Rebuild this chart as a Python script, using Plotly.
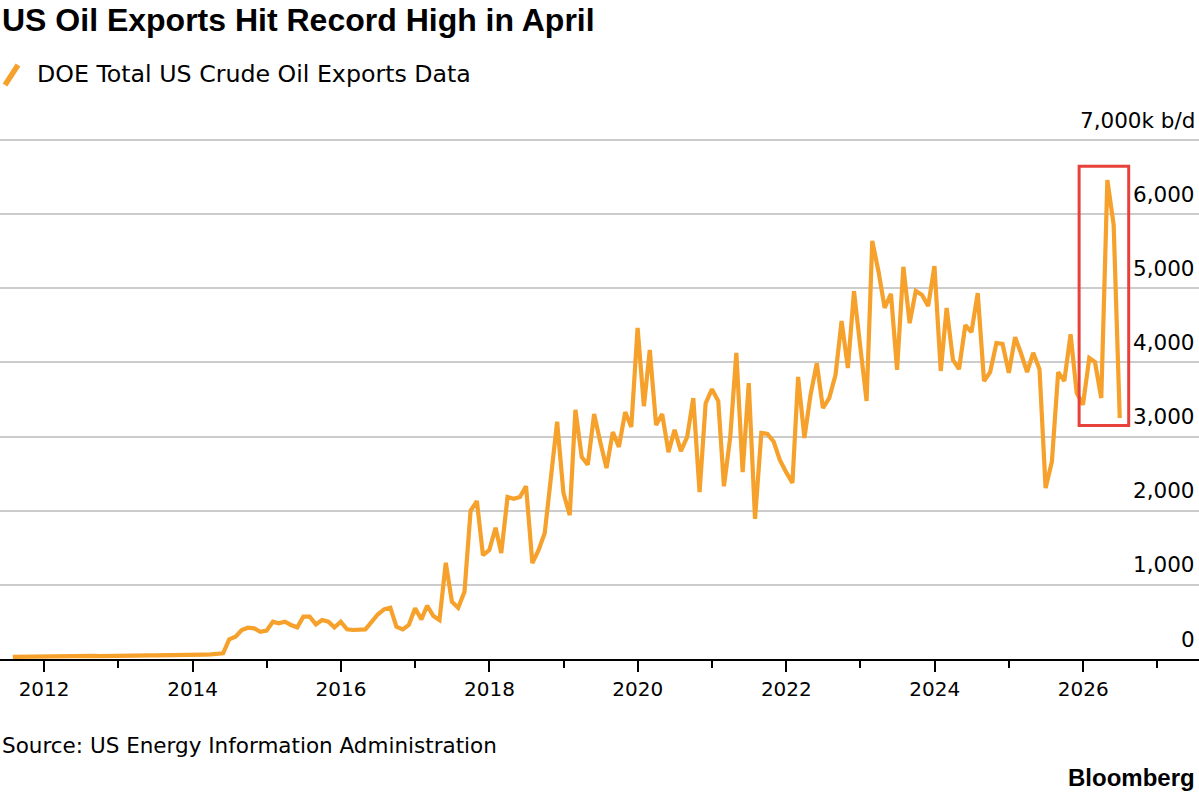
import pandas as pd
import plotly.graph_objects as go

# ---------------- data (monthly, month-end, thousand barrels/day) ----------------
START_MONTH = "2011-07-31"
v2011 = [28, 30, 29, 31, 33, 32]
v2012 = [35, 34, 37, 38, 36, 39, 40, 41, 39, 42, 43, 44]
v2013 = [45, 47, 46, 48, 50, 49, 52, 53, 51, 55, 56, 57]
v2014 = [58, 60, 62, 65, 78, 265, 300, 391, 422, 414, 368, 382]
v2015 = [503, 481, 503, 459, 427, 571, 571, 468, 526, 503, 427, 503]
v2016 = [400, 391, 391, 400, 500, 600, 670, 692, 436, 400, 459, 684]
v2017 = [535, 719, 580, 526, 1299, 773, 692, 908, 2000, 2130, 1400, 1470]
v2018 = [1770, 1430, 2185, 2160, 2185, 2330, 1295, 1470, 1700, 2455, 3200, 2240]
v2019 = [1940, 3360, 2725, 2620, 3305, 2930, 2575, 3060, 2860, 3330, 3130, 4465]
v2020 = [3410, 4170, 3155, 3305, 2790, 3090, 2805, 2995, 3520, 2250, 3450, 3640]
v2021 = [3480, 2330, 2995, 4130, 2520, 3720, 1890, 3050, 3035, 2930, 2685, 2520]
v2022 = [2375, 3805, 2980, 3560, 3990, 3385, 3520, 3830, 4560, 3925, 4960, 4210]
v2023 = [3480, 5640, 5220, 4735, 4925, 3900, 5290, 4530, 4965, 4910, 4760, 5300]
v2024 = [3885, 4735, 4035, 3910, 4505, 4410, 4935, 3750, 3870, 4260, 4250, 3860]
v2025 = [4340, 4130, 3870, 4130, 3910, 2305, 2660, 3870, 3750, 4380, 3590, 3430]
v2026 = [4060, 4005, 3520, 6460, 5855, 3250]

values = (v2011 + v2012 + v2013 + v2014 + v2015 + v2016 + v2017 + v2018
          + v2019 + v2020 + v2021 + v2022 + v2023 + v2024 + v2025 + v2026)

Y_TICKS = [0, 1000, 2000, 3000, 4000, 5000, 6000, 7000]
Y_LABELS = ["0", "1,000", "2,000", "3,000", "4,000", "5,000", "6,000", "7,000k b/d"]

TITLE = "US Oil Exports Hit Record High in April"
SERIES_NAME = "DOE Total US Crude Oil Exports Data"
SOURCE = "Source: US Energy Information Administration"

# highlight box (recent months)
HL_X = ["2025-12-12", "2026-08-13"]
HL_Y = [3150, 6645]

# ---------------- build ----------------
try:
    dates = pd.date_range(START_MONTH, periods=len(values), freq="ME")
except Exception:
    dates = pd.date_range(START_MONTH, periods=len(values), freq="M")

ORANGE = "#f5a12b"
RED = "#e8413c"
FONT = "DejaVu Sans"
BOLD = "Liberation Sans"

W, H = 1199, 795
T, B = 139, 136
PH = H - T - B
Y_MAX = 7014


def px(x):
    return x / W


def py(y):
    return (H - B - y) / PH


fig = go.Figure(
    go.Scatter(x=dates, y=values, mode="lines", name=SERIES_NAME,
               line=dict(color=ORANGE, width=4.2), hoverinfo="skip",
               showlegend=False)
)

fig.update_layout(
    width=W, height=H,
    margin=dict(l=0, r=0, t=T, b=B, pad=0),
    paper_bgcolor="white", plot_bgcolor="white",
    showlegend=False,
    xaxis=dict(
        type="date", range=["2011-05-29", "2027-07-25"],
        showgrid=False, zeroline=False,
        showline=True, linecolor="black", linewidth=1.5,
        ticks="outside", ticklen=11, tickwidth=1.5, tickcolor="black",
        tick0="2012-01-01", dtick="M24", tickformat="%Y",
        tickfont=dict(family=FONT, size=20, color="black"),
        minor=dict(ticks="outside", ticklen=7, tickwidth=1.5, tickcolor="black",
                   tick0="2013-01-01", dtick="M24"),
        fixedrange=True,
    ),
    yaxis=dict(
        range=[0, Y_MAX], tickvals=Y_TICKS, showticklabels=False,
        showgrid=True, gridcolor="#cccccc", gridwidth=1.5,
        zeroline=False, showline=False, ticks="", fixedrange=True,
    ),
)

ann = []
for v, lab in zip(Y_TICKS, Y_LABELS):
    ann.append(dict(x=px(1197), xref="paper", xanchor="right",
                    y=v, yref="y", yanchor="middle", yshift=20,
                    text=lab, showarrow=False,
                    font=dict(family=FONT, size=21.5, color="black")))

ann.append(dict(x=0, xref="paper", xanchor="left", y=py(20), yref="paper",
                yanchor="middle", text="<b>" + TITLE + "</b>", showarrow=False,
                font=dict(family=BOLD, size=32, color="black")))
ann.append(dict(x=px(35), xref="paper", xanchor="left", y=py(74), yref="paper",
                yanchor="middle", text=SERIES_NAME, showarrow=False,
                font=dict(family=FONT, size=23.7, color="black")))
ann.append(dict(x=0, xref="paper", xanchor="left", y=py(745), yref="paper",
                yanchor="middle", text=SOURCE, showarrow=False,
                font=dict(family=FONT, size=21.5, color="black")))
ann.append(dict(x=px(1197), xref="paper", xanchor="right", y=py(777), yref="paper",
                yanchor="middle", text="<b>Bloomberg</b>", showarrow=False,
                font=dict(family=BOLD, size=24, color="black")))
fig.update_layout(annotations=ann)

fig.add_shape(type="line", xref="paper", yref="paper",
              x0=px(5), y0=py(85), x1=px(18), y1=py(65),
              line=dict(color=ORANGE, width=5.5))
fig.add_shape(type="rect", xref="x", yref="y",
              x0=HL_X[0], x1=HL_X[1], y0=HL_Y[0], y1=HL_Y[1],
              line=dict(color=RED, width=3), fillcolor="rgba(0,0,0,0)",
              layer="above")

fig.write_html("out.html", config={"displayModeBar": False})
